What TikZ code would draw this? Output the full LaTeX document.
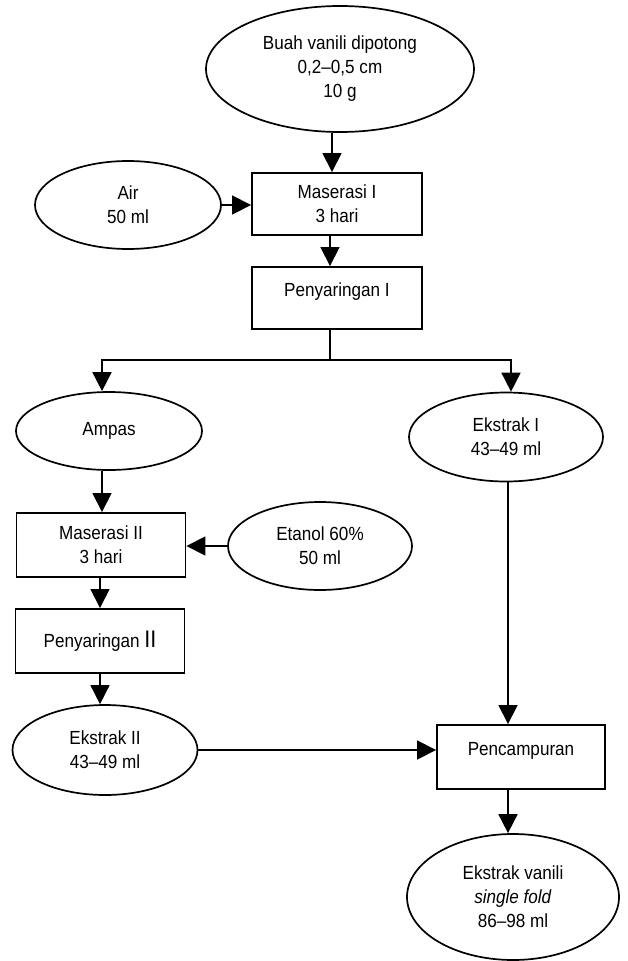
\documentclass[tikz,border=0pt]{standalone}
\usepackage{fontspec}
\setmainfont{Liberation Sans}[FakeStretch=0.9]
\usetikzlibrary{shapes.geometric,arrows.meta}
\begin{document}
\begin{tikzpicture}[x=1pt,y=-1pt,
  txt/.style={font=\fontsize{19}{24}\selectfont, align=center, inner sep=0pt},
  ell/.style={txt, draw, ellipse, line width=1.7pt},
  box/.style={txt, draw, rectangle, line width=1.9pt},
  ln/.style={line width=1.7pt},
  arr/.style={ln, -{Triangle[length=19pt,width=19pt]}}]
\useasboundingbox (0,0) rectangle (627,961);
% nodes
\node[ell, minimum width=268pt, minimum height=126pt] (top) at (340,69) {Buah vanili dipotong\\0,2--0,5 cm\\10 g};
\node[ell, minimum width=186pt, minimum height=88pt] (air) at (128,205) {Air\\50 ml};
\node[box, minimum width=170pt, minimum height=62pt] (m1) at (337,204) {Maserasi I\\3 hari};
\node[box, minimum width=170pt, minimum height=62pt, text depth=16pt] (p1) at (337,298) {Penyaringan I};
\node[ell, minimum width=186pt, minimum height=78pt] (ampas) at (109,431) {Ampas};
\node[ell, minimum width=194pt, minimum height=89pt] (ek1) at (506,437) {Ekstrak I\\43--49 ml};
\node[box, minimum width=169pt, minimum height=64pt] (m2) at (101,545) {Maserasi II\\3 hari};
\node[ell, minimum width=184pt, minimum height=88pt] (etanol) at (320,546) {Etanol 60\%\\50 ml};
\node[box, minimum width=169pt, minimum height=64pt] (p2) at (100,641) {Penyaringan {\fontsize{24}{24}\selectfont II}};
\node[ell, minimum width=185pt, minimum height=90pt] (ek2) at (105,750) {Ekstrak II\\43--49 ml};
\node[box, minimum width=168pt, minimum height=64pt, text depth=16pt] (pc) at (521,757) {Pencampuran};
\node[ell, minimum width=212pt, minimum height=126pt] (ev) at (513,897) {Ekstrak vanili\\\textit{single fold}\\86--98 ml};
% guide coordinates for connector lines
\coordinate (c1) at (332,0);
\coordinate (c2) at (330,0);
\coordinate (split) at (330,360);
\coordinate (cl) at (102,0);
\coordinate (cr) at (511,0);
\coordinate (cl2) at (100,0);
\coordinate (cv) at (508,0);
% connectors
\draw[arr] (top.south -| c1) -- (m1.north -| c1);
\draw[arr] (air.east) -- (air.east -| m1.west);
\draw[arr] (m1.south -| c2) -- (p1.north -| c2);
\draw[ln] (p1.south -| c2) -- (split);
\draw[arr] (split) -| (ampas.north -| cl);
\draw[arr] (split) -| (ek1.north -| cr);
\draw[arr] (ampas.south -| cl) -- (m2.north -| cl);
\draw[arr] (etanol.west) -- (etanol.west -| m2.east);
\draw[arr] (m2.south -| cl2) -- (p2.north -| cl2);
\draw[arr] (p2.south -| cl2) -- (ek2.north -| cl2);
\draw[arr] (ek1.south -| cv) -- (pc.north -| cv);
\draw[arr] (ek2.east) -- (ek2.east -| pc.west);
\draw[arr] (pc.south -| cv) -- (ev.north -| cv);
\end{tikzpicture}
\end{document}
